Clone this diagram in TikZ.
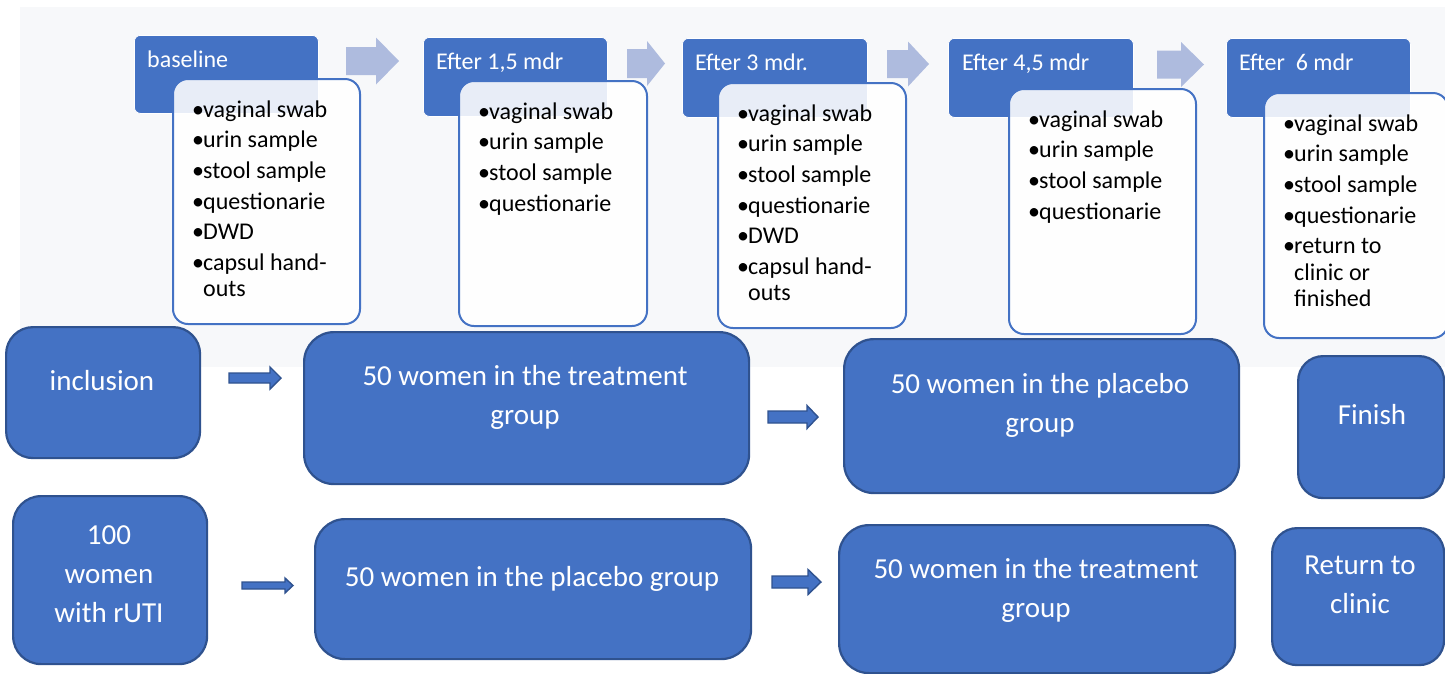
\documentclass[tikz,border=0pt]{standalone}
\usepackage{fontspec}
\setmainfont{Carlito}
\usetikzlibrary{calc}
\definecolor{accent}{HTML}{4472C4}
\definecolor{accentdk}{HTML}{2F528F}
\definecolor{lightarrow}{RGB}{174,187,222}
\definecolor{panelbg}{HTML}{F7F8FA}
% style, start, end, shaft half-width, head half-width, head length
\newcommand\myblockarrow[6]{%
  \path[#1] ($(#2)+(0,-#4)$) -- ($(#3)+(-#6,-#4)$) -- ($(#3)+(-#6,-#5)$) -- (#3)
    -- ($(#3)+(-#6,#5)$) -- ($(#3)+(-#6,#4)$) -- ($(#2)+(0,#4)$) -- cycle;}
\newcommand\itm[1]{\makebox[11pt][l]{\char"2022}#1}
\newcommand\cont[1]{\makebox[11pt][l]{}#1}
\begin{document}
\begin{tikzpicture}[x=1pt,y=-1pt,
  hdr/.style={rectangle, fill=accent, draw=white, line width=0.8pt, rounded corners=6pt,
    anchor=north west, inner sep=0pt},
  hdrtext/.style={anchor=base west, inner sep=0pt, text=white, font=\fontsize{24}{28}\selectfont},
  detail/.style={rectangle, fill=white, fill opacity=0.88, draw=accent, draw opacity=1,
    line width=2pt, rounded corners=15pt, anchor=north west, inner sep=0pt},
  listtext/.style={anchor=north west, inner sep=0pt, align=left, text=black,
    font=\fontsize{24}{26.5}\selectfont},
  bigbox/.style={rectangle, fill=accent, draw=accentdk, line width=2.2pt,
    anchor=north west, inner sep=0pt},
  bigtext/.style={anchor=center, inner sep=0pt, align=center, text=white,
    font=\fontsize{29}{39}\selectfont},
  toparrow/.style={fill=lightarrow},
  botarrow/.style={fill=accent, draw=accentdk, line width=1.4pt, line join=miter}
]
\useasboundingbox (0,0) rectangle (1445,673);
\fill[panelbg] (20,7) rectangle (1445,367);

% header boxes
\node[hdr, minimum width=184pt, minimum height=78pt] (h1) at (134,35) {};
\node[hdr, minimum width=184pt, minimum height=79pt] (h2) at (423,37) {};
\node[hdr, minimum width=185pt, minimum height=79pt] (h3) at (682,38) {};
\node[hdr, minimum width=185pt, minimum height=79pt] (h4) at (948,38) {};
\node[hdr, minimum width=184pt, minimum height=79pt] (h5) at (1226,38) {};
\node[hdrtext] (h1t) at (147,67) {baseline};
\node[hdrtext] (h2t) at (436,69) {Efter 1,5 mdr};
\node[hdrtext] (h3t) at (695,70) {Efter 3 mdr.};
\node[hdrtext] (h4t) at (962,70) {Efter 4,5 mdr};
\node[hdrtext] (h5t) at (1239,70) {Efter\ \ 6 mdr};

% top process arrows
\coordinate (t1s) at (346,61);   \coordinate (t1e) at (399,61);
\coordinate (t2s) at (627,63.5); \coordinate (t2e) at (665,63.5);
\coordinate (t3s) at (887,64);   \coordinate (t3e) at (929,64);
\coordinate (t4s) at (1157,64.5);\coordinate (t4e) at (1204,64.5);
\myblockarrow{toparrow}{t1s}{t1e}{14}{23.5}{23}
\myblockarrow{toparrow}{t2s}{t2e}{14.5}{22.5}{18}
\myblockarrow{toparrow}{t3s}{t3e}{14}{22.5}{21}
\myblockarrow{toparrow}{t4s}{t4e}{14}{22.5}{23}

% detail boxes
\node[detail, minimum width=187pt, minimum height=245pt] (d1) at (172,78) {};
\node[detail, minimum width=188pt, minimum height=245pt] (d2) at (458,80) {};
\node[detail, minimum width=188pt, minimum height=245pt] (d3) at (717,82) {};
\node[detail, minimum width=187pt, minimum height=245pt] (d4) at (1008,88) {};
\node[detail, minimum width=184pt, minimum height=245pt] (d5) at (1263,92) {};

\node[listtext] (d1t) at (192,99) {\rule{0pt}{18pt}\itm{vaginal swab}\\[4.1pt]\itm{urin sample}\\[4.1pt]\itm{stool sample}\\[4.1pt]\itm{questionarie}\\[4.1pt]\itm{DWD}\\[4.1pt]\itm{capsul hand-}\\\cont{outs}};
\node[listtext] (d2t) at (478,101) {\rule{0pt}{18pt}\itm{vaginal swab}\\[4.1pt]\itm{urin sample}\\[4.1pt]\itm{stool sample}\\[4.1pt]\itm{questionarie}};
\node[listtext] (d3t) at (737,103) {\rule{0pt}{18pt}\itm{vaginal swab}\\[4.1pt]\itm{urin sample}\\[4.1pt]\itm{stool sample}\\[4.1pt]\itm{questionarie}\\[4.1pt]\itm{DWD}\\[4.1pt]\itm{capsul hand-}\\\cont{outs}};
\node[listtext] (d4t) at (1028,109) {\rule{0pt}{18pt}\itm{vaginal swab}\\[4.1pt]\itm{urin sample}\\[4.1pt]\itm{stool sample}\\[4.1pt]\itm{questionarie}};
\node[listtext] (d5t) at (1283,113) {\rule{0pt}{18pt}\itm{vaginal swab}\\[4.1pt]\itm{urin sample}\\[4.1pt]\itm{stool sample}\\[4.1pt]\itm{questionarie}\\[4.1pt]\itm{return to}\\\cont{clinic or}\\\cont{finished}};

% bottom rows
\node[bigbox, rounded corners=27pt, minimum width=194pt, minimum height=131pt] (incl) at (5,326) {};
\node[bigbox, rounded corners=30pt, minimum width=445pt, minimum height=152pt] (tr1) at (303,331) {};
\node[bigbox, rounded corners=30pt, minimum width=395pt, minimum height=154pt] (pl1) at (843,338) {};
\node[bigbox, rounded corners=25pt, minimum width=146pt, minimum height=142pt] (fin) at (1297,355) {};
\node[bigbox, rounded corners=28pt, minimum width=194pt, minimum height=168pt] (hw) at (12,495) {};
\node[bigbox, rounded corners=30pt, minimum width=436pt, minimum height=140pt] (pl2) at (314,518) {};
\node[bigbox, rounded corners=30pt, minimum width=396pt, minimum height=148pt] (tr2) at (838,524) {};
\node[bigbox, rounded corners=25pt, minimum width=172pt, minimum height=137pt] (ret) at (1271,527) {};

\node[bigtext] (inclt) at (102,381) {inclusion};
\node[bigtext] (tr1t) at (525,397) {50 women in the treatment\\group};
\node[bigtext] (pl1t) at (1040,405) {50 women in the placebo\\group};
\node[bigtext] (fint) at (1372,415) {Finish};
\node[bigtext] (hwt) at (109,574) {100\\women\\with rUTI};
\node[bigtext] (pl2t) at (532,579) {50 women in the placebo group};
\node[bigtext] (tr2t) at (1036,590) {50 women in the treatment\\group};
\node[bigtext] (rett) at (1360,585) {Return to\\clinic};

% bottom block arrows
\coordinate (a1s) at (229,378);   \coordinate (a1e) at (281,378);
\coordinate (a2s) at (768,417);   \coordinate (a2e) at (818,417);
\coordinate (a3s) at (242,585.5); \coordinate (a3e) at (293,585.5);
\coordinate (a4s) at (772,582);   \coordinate (a4e) at (821,582);
\myblockarrow{botarrow}{a1s}{a1e}{5}{11}{11}
\myblockarrow{botarrow}{a2s}{a2e}{6}{11.5}{11}
\myblockarrow{botarrow}{a3s}{a3e}{3.5}{7.5}{8}
\myblockarrow{botarrow}{a4s}{a4e}{6}{12.5}{13}
\end{tikzpicture}
\end{document}
